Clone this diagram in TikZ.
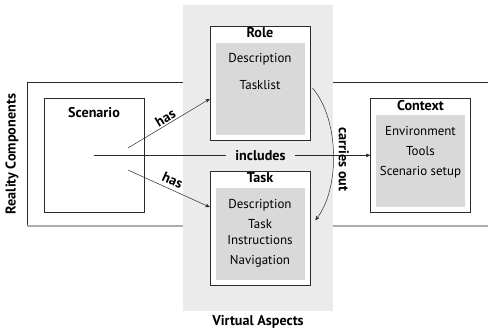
\documentclass[tikz,border=0pt]{standalone}
\usepackage{fontspec}
\setmainfont{PT Sans}
\usepackage{tikz}
\usetikzlibrary{arrows,positioning,calc}
\definecolor{bggray}{HTML}{EBEBEB}
\definecolor{boxgray}{HTML}{D9D9D9}
\definecolor{linegray}{HTML}{2A2A2A}

\begin{document}
\begin{tikzpicture}[x=1bp,y=-1bp,>=stealth',
  outer box/.style={draw=linegray,fill=white,line width=0.9bp,minimum width=100bp,minimum height=114bp,inner sep=0pt},
  inner box/.style={fill=boxgray,minimum width=89bp,minimum height=92bp,inner sep=0pt},
  list/.style={align=center,inner sep=0pt,font=\fontsize{13}{16.5}\selectfont},
  title/.style={inner sep=0pt,font=\bfseries\fontsize{14.2}{16}\selectfont},
  tag/.style={inner sep=2pt,font=\bfseries\fontsize{14.2}{16}\selectfont},
  link/.style={->,draw=linegray,line width=0.5bp}]

  \useasboundingbox (0,0) rectangle (488,331);

  % reality components frame
  \draw[linegray,line width=0.6bp] (488,82) -- (27,82) -- (27,226);
  \draw[gray!65,line width=1.1bp] (27,226) -- (488,226);
  % virtual aspects area
  \fill[bggray] (183,5) rectangle (333,311);

  \node[outer box] (scen) at (94,155.5) {};
  \node[title, below=9bp of scen.north] (scentitle) {Scenario};

  \node[outer box] (role) at (260,83) {};
  \node[title, below=1.5bp of role.north] (roletitle) {Role};
  \node[inner box, above=5.7bp of role.south] (rolein) {};
  \node[list, below=11bp of rolein.north] (rolelist) {Description\\[10bp]Tasklist};

  \node[outer box] (task) at (260,228) {};
  \node[title, below=1.5bp of task.north] (tasktitle) {Task};
  \node[inner box, above=5.7bp of task.south] (taskin) {};
  \node[list, below=11.5bp of taskin.north] (tasklist) {Description\\[3.5bp]Task\\Instructions\\[3.5bp]Navigation};

  \node[outer box] (ctx) at (420.5,155.3) {};
  \node[title, below=2bp of ctx.north] (ctxtitle) {Context};
  \node[inner box, above=5.7bp of ctx.south] (ctxin) {};
  \node[list, below=11bp of ctxin.north] (ctxlist) {Environment\\[4bp]Tools\\[4bp]Scenario setup};

  \coordinate (hasA) at (128,148);
  \coordinate (hasB) at (128,170);
  \coordinate (incl) at (94,155.3);

  \draw[link] (hasA) -- node[tag,above,sloped,inner sep=1.5bp] {has} ($(role.west)+(0,16)$);
  \draw[link] (hasB) -- node[tag,above,sloped,inner sep=4bp] {has} ($(task.west)+(0,-21)$);
  \draw[link] (incl) -- node[tag,pos=0.603,fill=bggray,inner xsep=9bp] {includes} (ctx.west);

  \draw[link] ($(role.east)+(2,5)$) .. controls (340,120) and (340,190) ..
    node[tag,pos=0.53,rotate=-90,anchor=south,inner sep=5bp] {carries out} ($(task.east)+(5,-8)$);

  \node[tag,rotate=90] (reality) at (12,154) {Reality Components};
  \node[tag] (virtual) at (258,322) {Virtual Aspects};
\end{tikzpicture}
\end{document}
